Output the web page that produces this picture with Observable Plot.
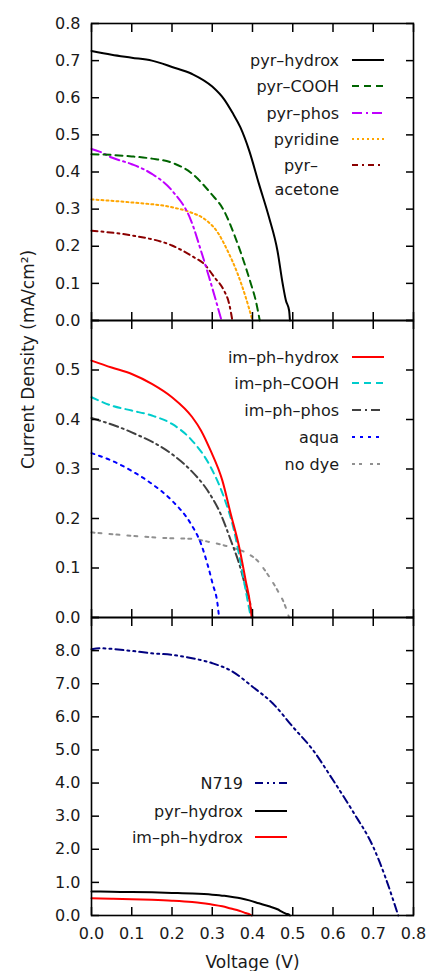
<!DOCTYPE html>
<html><head><meta charset="utf-8">
<script src="https://cdn.jsdelivr.net/npm/d3@7"></script>
<script src="https://cdn.jsdelivr.net/npm/@observablehq/plot@0.6"></script>
<style>
body{margin:0;background:#fff}
#chart{position:relative;width:427px;height:971px;overflow:hidden;background:#fff}
</style>
</head><body><div id="chart"></div><script>
// ---------- tick values and labels ----------
const voltTicks = [0, 0.1, 0.2, 0.3, 0.4, 0.5, 0.6, 0.7, 0.8];
const voltLabels = ["0.0", "0.1", "0.2", "0.3", "0.4", "0.5", "0.6", "0.7", "0.8"];
const topTicks = [0, 0.1, 0.2, 0.3, 0.4, 0.5, 0.6, 0.7, 0.8];
const topLabels = ["0.0", "0.1", "0.2", "0.3", "0.4", "0.5", "0.6", "0.7", "0.8"];
const midTicks = [0, 0.1, 0.2, 0.3, 0.4, 0.5, 0.6];
const midLabelTicks = [0, 0.1, 0.2, 0.3, 0.4, 0.5];
const midLabels = ["0.0", "0.1", "0.2", "0.3", "0.4", "0.5"];
const botTicks = [0, 1, 2, 3, 4, 5, 6, 7, 8, 9];
const botLabelTicks = [0, 1, 2, 3, 4, 5, 6, 7, 8];
const botLabels = ["0.0", "1.0", "2.0", "3.0", "4.0", "5.0", "6.0", "7.0", "8.0"];
const xTitle = "Voltage (V)";
const yTitle = "Current Density (mA/cm²)";

// ---------- series (voltage V, current density mA/cm²) ----------
const pyrHydroxV = [0, 0.05, 0.1, 0.15, 0.2, 0.25, 0.3, 0.33, 0.35, 0.37, 0.392, 0.416, 0.441, 0.462, 0.475, 0.483, 0.491, 0.493];
const pyrHydroxJ = [0.726, 0.716, 0.708, 0.700, 0.683, 0.664, 0.630, 0.595, 0.560, 0.520, 0.457, 0.368, 0.278, 0.188, 0.099, 0.054, 0.027, 0];
const pyrCOOHV = [0, 0.05, 0.1, 0.15, 0.2, 0.247, 0.296, 0.329, 0.354, 0.375, 0.396, 0.408, 0.418];
const pyrCOOHJ = [0.448, 0.446, 0.442, 0.436, 0.425, 0.398, 0.343, 0.296, 0.233, 0.170, 0.099, 0.054, 0];
const pyrPhosV = [0, 0.02, 0.05, 0.1, 0.15, 0.2, 0.247, 0.272, 0.292, 0.309, 0.323];
const pyrPhosJ = [0.462, 0.455, 0.439, 0.421, 0.395, 0.350, 0.270, 0.188, 0.117, 0.054, 0];
const pyridineV = [0, 0.1, 0.2, 0.247, 0.28, 0.313, 0.338, 0.363, 0.383, 0.4];
const pyridineJ = [0.326, 0.318, 0.305, 0.291, 0.274, 0.238, 0.188, 0.126, 0.063, 0];
const pyrAcetoneV = [0, 0.1, 0.2, 0.255, 0.28, 0.305, 0.329, 0.342, 0.35];
const pyrAcetoneJ = [0.242, 0.229, 0.202, 0.170, 0.152, 0.117, 0.081, 0.045, 0];

const imHydroxV = [0, 0.05, 0.1, 0.15, 0.2, 0.25, 0.272, 0.296, 0.325, 0.346, 0.367, 0.383, 0.394, 0.398];
const imHydroxJ = [0.519, 0.505, 0.492, 0.472, 0.445, 0.405, 0.378, 0.337, 0.277, 0.209, 0.142, 0.075, 0.028, 0];
const imCOOHV = [0, 0.05, 0.1, 0.15, 0.2, 0.247, 0.296, 0.329, 0.354, 0.371, 0.383, 0.396];
const imCOOHJ = [0.445, 0.428, 0.418, 0.408, 0.391, 0.360, 0.304, 0.243, 0.176, 0.108, 0.055, 0];
const imPhosV = [0, 0.1, 0.2, 0.247, 0.288, 0.321, 0.346, 0.367, 0.383, 0.396, 0.4];
const imPhosJ = [0.403, 0.374, 0.330, 0.297, 0.257, 0.209, 0.156, 0.108, 0.061, 0.021, 0];
const aquaV = [0, 0.05, 0.1, 0.15, 0.2, 0.247, 0.272, 0.288, 0.301, 0.313, 0.317];
const aquaJ = [0.332, 0.317, 0.296, 0.270, 0.236, 0.189, 0.149, 0.108, 0.068, 0.028, 0];
const noDyeV = [0, 0.1, 0.2, 0.247, 0.296, 0.346, 0.388, 0.412, 0.437, 0.462, 0.479, 0.491];
const noDyeJ = [0.172, 0.165, 0.160, 0.159, 0.152, 0.142, 0.129, 0.115, 0.088, 0.055, 0.028, 0];

const n719V = [0, 0.02, 0.1, 0.15, 0.2, 0.25, 0.3, 0.35, 0.4, 0.45, 0.5, 0.55, 0.6, 0.65, 0.7, 0.73, 0.75, 0.762];
const n719J = [8.04, 8.07, 7.99, 7.92, 7.87, 7.77, 7.62, 7.37, 6.91, 6.41, 5.70, 5.00, 4.09, 3.13, 2.07, 1.16, 0.45, 0];

// ---------- styles ----------
const S = {
  pyrHydrox: {label: ["pyr–hydrox"], V: pyrHydroxV, J: pyrHydroxJ, color: "#000000", dash: null},
  pyrCOOH: {label: ["pyr–COOH"], V: pyrCOOHV, J: pyrCOOHJ, color: "#006400", dash: "7,5"},
  pyrPhos: {label: ["pyr–phos"], V: pyrPhosV, J: pyrPhosJ, color: "#c000ff", dash: "10,4,2,4"},
  pyridine: {label: ["pyridine"], V: pyridineV, J: pyridineJ, color: "#ffa500", dash: "2,3"},
  pyrAcetone: {label: ["pyr–", "acetone"], V: pyrAcetoneV, J: pyrAcetoneJ, color: "#8b0000", dash: "6,4,2,4"},
  imHydrox: {label: ["im–ph–hydrox"], V: imHydroxV, J: imHydroxJ, color: "#ff0000", dash: null},
  imCOOH: {label: ["im–ph–COOH"], V: imCOOHV, J: imCOOHJ, color: "#00cccc", dash: "7,5"},
  imPhos: {label: ["im–ph–phos"], V: imPhosV, J: imPhosJ, color: "#404040", dash: "9,4,2,4"},
  aqua: {label: ["aqua"], V: aquaV, J: aquaJ, color: "#0000ff", dash: "3,5"},
  noDye: {label: ["no dye"], V: noDyeV, J: noDyeJ, color: "#909090", dash: "3,4,3,8"},
  n719: {label: ["N719"], V: n719V, J: n719J, color: "#000080", dash: "8,4,2,4,2,4"}
};

const W = 427, H = 971, ML = 91, MR = 14;
const FONT = "DejaVu Sans";

function panel({mt, mb, yDomain, yTicks, yLabelTicks, yLabels, series, xLabels, extra = []}) {
  const fmt = arr => (d, i) => arr[i];
  const blank = () => "";
  const marks = [
    ...series.map(s => Plot.line(s.V.map((v, i) => ({V: v, J: s.J[i]})), {
      x: "V", y: "J", stroke: s.color, strokeWidth: 2, strokeDasharray: s.dash, curve: "monotone-x"
    })),
    Plot.axisY(yTicks, {anchor: "left", tickSize: 8, dx: 8, strokeWidth: 1.5, tickFormat: blank, label: null}),
    Plot.axisY(yTicks, {anchor: "right", tickSize: 8, dx: -8, strokeWidth: 1.5, tickFormat: blank, label: null}),
    Plot.axisX(voltTicks, {anchor: "bottom", tickSize: 8, dy: -8, strokeWidth: 1.5, tickFormat: blank, label: null}),
    Plot.axisX(voltTicks, {anchor: "top", tickSize: 8, dy: 8, strokeWidth: 1.5, tickFormat: blank, label: null}),
    Plot.axisY(yLabelTicks, {anchor: "left", tickSize: 0, tickPadding: 11, tickFormat: fmt(yLabels), label: null, fill: "#1a1a1a"}),
    Plot.frame({stroke: "#000", strokeWidth: 1.6}),
    ...extra
  ];
  if (xLabels) {
    marks.push(Plot.axisX(voltTicks, {anchor: "bottom", tickSize: 0, tickPadding: 12, tickFormat: fmt(xLabels), label: null, fill: "#1a1a1a"}));
  }
  return Plot.plot({
    width: W, height: H,
    marginLeft: ML, marginRight: MR, marginTop: mt, marginBottom: mb,
    x: {domain: [0, 0.8]},
    y: {domain: yDomain},
    style: {position: "absolute", top: "0px", left: "0px", background: "transparent", overflow: "visible",
            fontFamily: FONT, fontSize: "16px", color: "#000"},
    marks
  });
}

function legend(svg, items, {textX, x1, x2, ys}) {
  const g = d3.select(svg).append("g").attr("font-family", FONT).attr("font-size", 16).attr("fill", "#1a1a1a");
  items.forEach((s, k) => {
    const y = ys[k];
    if (s.label.length === 1) {
      g.append("text").attr("x", textX).attr("y", y).attr("dy", "0.36em").attr("text-anchor", "end").text(s.label[0]);
    } else {
      g.append("text").attr("x", textX - 38).attr("y", y).attr("dy", "0.36em").attr("text-anchor", "middle").text(s.label[0]);
      g.append("text").attr("x", textX).attr("y", y + 24).attr("dy", "0.36em").attr("text-anchor", "end").text(s.label[1]);
    }
    g.append("line").attr("x1", x1).attr("x2", x2).attr("y1", y).attr("y2", y)
      .attr("stroke", s.color).attr("stroke-width", 2).attr("stroke-dasharray", s.dash);
  });
}

const chart = document.getElementById("chart");

const topSeries = [S.pyrHydrox, S.pyrCOOH, S.pyrPhos, S.pyridine, S.pyrAcetone];
const p1 = panel({mt: 23, mb: H - 320, yDomain: [0, 0.8], yTicks: topTicks, yLabelTicks: topTicks, yLabels: topLabels,
  series: [S.pyrAcetone, S.pyridine, S.pyrPhos, S.pyrCOOH, S.pyrHydrox]});
legend(p1, topSeries, {textX: 339, x1: 352, x2: 384, ys: [60, 86, 113, 139, 165]});
chart.appendChild(p1);

const midSeries = [S.imHydrox, S.imCOOH, S.imPhos, S.aqua, S.noDye];
const p2 = panel({mt: 320, mb: H - 617, yDomain: [0, 0.6], yTicks: midTicks, yLabelTicks: midLabelTicks, yLabels: midLabels,
  series: [S.noDye, S.aqua, S.imPhos, S.imCOOH, S.imHydrox],
  extra: [Plot.text([yTitle], {frameAnchor: "left", rotate: -90, dx: -63, fontSize: 17, fill: "#1a1a1a"})]});
legend(p2, midSeries, {textX: 339, x1: 352, x2: 384, ys: [357, 383, 410, 437, 464]});
chart.appendChild(p2);

const botSeries = [S.n719, S.pyrHydrox, S.imHydrox];
const p3 = panel({mt: 617, mb: H - 915, yDomain: [0, 9], yTicks: botTicks, yLabelTicks: botLabelTicks, yLabels: botLabels,
  series: [S.imHydrox, S.pyrHydrox, S.n719], xLabels: voltLabels,
  extra: [Plot.text([xTitle], {frameAnchor: "bottom", dy: 40, lineAnchor: "top", fontSize: 17, fill: "#1a1a1a"})]});
legend(p3, botSeries, {textX: 243, x1: 255, x2: 287, ys: [783, 811, 837]});
chart.appendChild(p3);
</script></body></html>
